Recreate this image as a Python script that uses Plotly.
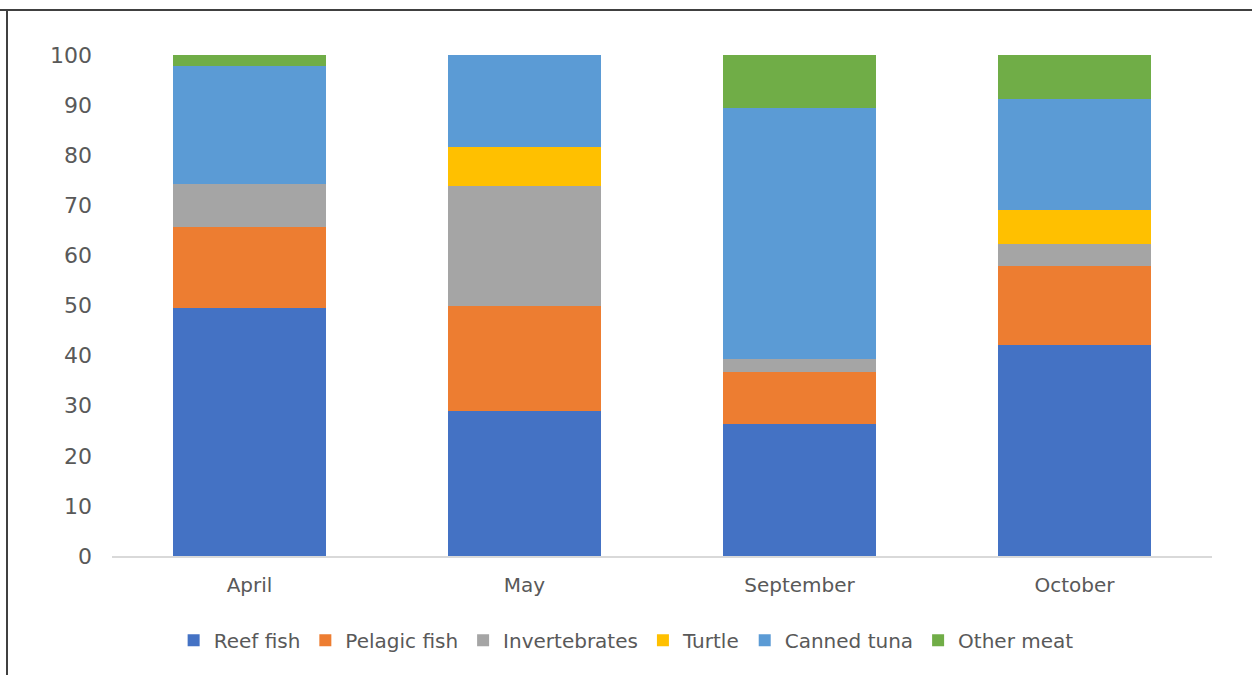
import plotly.graph_objects as go

months = ["April", "May", "September", "October"]
reef_fish = [49.5, 29.0, 26.3, 42.2]
pelagic_fish = [16.1, 21.0, 10.45, 15.6]
invertebrates = [8.6, 23.8, 2.65, 4.45]
turtle = [0, 7.8, 0, 6.75]
canned_tuna = [23.7, 18.4, 50.1, 22.15]
other_meat = [2.2, 0, 10.5, 8.85]
y_ticks = [0, 10, 20, 30, 40, 50, 60, 70, 80, 90, 100]

series = [
    ("Reef fish", reef_fish, "#4472C4"),
    ("Pelagic fish", pelagic_fish, "#ED7D31"),
    ("Invertebrates", invertebrates, "#A5A5A5"),
    ("Turtle", turtle, "#FFC000"),
    ("Canned tuna", canned_tuna, "#5B9BD5"),
    ("Other meat", other_meat, "#70AD47"),
]

fig = go.Figure()
for name, vals, color in series:
    fig.add_trace(go.Bar(
        x=months, y=vals, name=name,
        marker=dict(color=color, line=dict(width=0)),
    ))

font_family = "DejaVu Sans, sans-serif"
fig.update_layout(
    barmode="stack",
    bargap=0.444,
    width=1252, height=675,
    margin=dict(l=112, r=40, t=55, b=119, pad=0),
    paper_bgcolor="white",
    plot_bgcolor="white",
    font=dict(family=font_family, size=20, color="#595959"),
    xaxis=dict(
        showline=True, linecolor="#D9D9D9", linewidth=2,
        ticks="", tickfont=dict(size=20, color="#595959"),
        showgrid=False, ticklabelstandoff=10,
    ),
    yaxis=dict(
        range=[0, 100], tickvals=y_ticks, showgrid=False,
        zeroline=False, showline=False, ticks="",
        tickfont=dict(size=22, color="#595959"),
        ticklabelstandoff=19,
    ),
    legend=dict(
        orientation="h", x=0.4674, xanchor="center",
        y=-0.168, yanchor="middle",
        font=dict(size=20, color="#595959"),
        traceorder="normal", itemwidth=30,
    ),
    showlegend=True,
)
fig.add_shape(type="line", xref="paper", yref="paper",
              x0=-112/1100, x1=1.1, y0=(555.7-10)/500.7, y1=(555.7-10)/500.7,
              line=dict(color="#404040", width=2))
fig.add_shape(type="line", xref="paper", yref="paper",
              x0=-105/1100, x1=-105/1100, y0=(555.7-10)/500.7, y1=-0.3,
              line=dict(color="#404040", width=2))
fig.write_html("out.html", config={"displayModeBar": False},
               post_script="document.body.style.margin='0';")
